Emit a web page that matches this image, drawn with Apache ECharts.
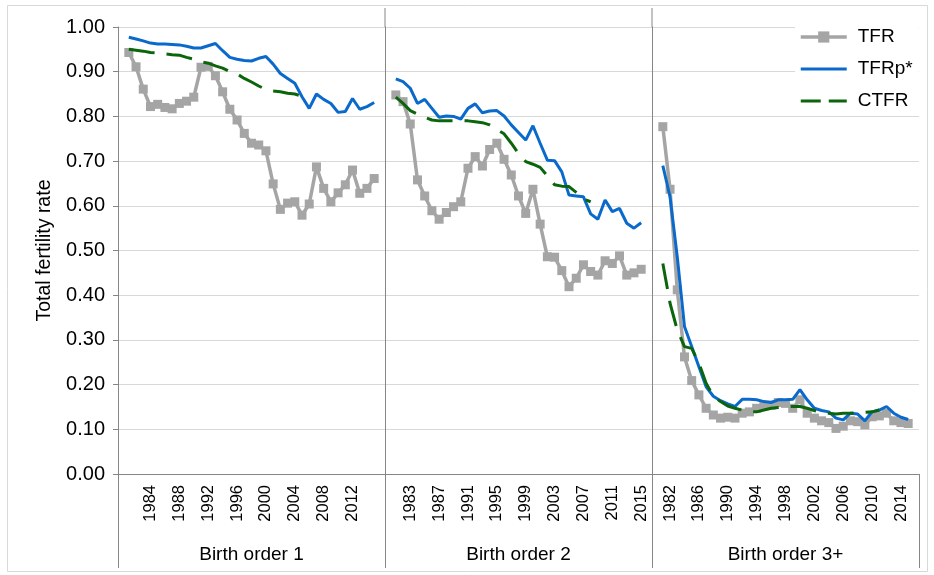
<!DOCTYPE html>
<html><head><meta charset="utf-8">
<script src="https://cdn.jsdelivr.net/npm/echarts@6/dist/echarts.min.js"></script>
<style>html,body{margin:0;padding:0;background:#fff}#c{width:934px;height:575px}</style>
</head><body><div id="c"></div><script>
const years = ['1980','1981','1982','1983','1984','1985','1986','1987','1988','1989','1990','1991','1992','1993','1994','1995','1996','1997','1998','1999','2000','2001','2002','2003','2004','2005','2006','2007','2008','2009','2010','2011','2012','2013','2014','2015','2016'];
const groups = ['Birth order 1','Birth order 2','Birth order 3+'];
const tickLabels1 = ['1984','1988','1992','1996','2000','2004','2008','2012'];
const tickLabels2 = ['1983','1987','1991','1995','1999','2003','2007','2011','2015'];
const tickLabels3 = ['1982','1986','1990','1994','1998','2002','2006','2010','2014'];

const tfr1 = [null,0.943,0.911,0.861,0.822,0.827,0.820,0.817,0.829,0.834,0.843,0.910,0.912,0.891,0.855,0.816,0.792,0.762,0.740,0.736,0.723,0.649,0.592,0.606,0.609,0.579,0.604,0.687,0.639,0.609,0.629,0.647,0.680,0.628,0.639,0.661,null];
const tfrp1 = [null,0.977,0.973,0.969,0.964,0.962,0.962,0.961,0.960,0.957,0.953,0.953,0.958,0.963,0.947,0.932,0.928,0.925,0.924,0.930,0.934,0.917,0.896,0.885,0.874,0.844,0.818,0.850,0.838,0.829,0.809,0.811,0.840,0.816,0.822,0.831,null];
const ctfr1 = [null,0.950,0.948,0.946,0.943,0.942,0.940,0.938,0.937,0.932,0.928,0.922,0.919,0.913,0.908,0.900,0.895,0.885,0.877,0.868,0.860,0.857,0.855,0.852,0.850,0.845,0.838,null,null,null,null,null,null,null,null,null,null];

const tfr2 = [null,0.848,0.833,0.783,0.658,0.622,0.589,0.570,0.585,0.598,0.609,0.684,0.710,0.689,0.726,0.740,0.704,0.669,0.622,0.583,0.637,0.559,0.486,0.485,0.455,0.419,0.438,0.468,0.453,0.445,0.477,0.471,0.488,0.445,0.450,0.458,null];
const tfrp2 = [null,0.884,0.878,0.863,0.829,0.838,0.818,0.798,0.801,0.800,0.794,0.818,0.828,0.808,0.812,0.813,0.801,0.781,0.764,0.747,0.779,0.740,0.702,0.701,0.676,0.624,0.622,0.620,0.582,0.570,0.613,0.587,0.594,0.561,0.550,0.562,null];
const ctfr2 = [null,0.843,0.829,0.813,0.805,0.798,0.792,0.790,0.790,0.790,0.790,0.790,0.788,0.786,0.781,0.771,0.761,0.740,0.717,0.699,0.693,0.686,0.667,0.647,0.644,0.643,0.630,0.615,0.609,null,null,null,null,null,null,null,null];

const tfr3 = [null,0.777,0.637,0.412,0.262,0.209,0.177,0.147,0.132,0.125,0.127,0.125,0.136,0.139,0.147,0.152,0.154,0.160,0.158,0.147,0.166,0.136,0.125,0.119,0.115,0.102,0.107,0.119,0.117,0.110,0.128,0.130,0.136,0.119,0.115,0.113,null];
const tfrp3 = [null,0.690,0.620,0.486,0.330,0.285,0.240,0.195,0.174,0.164,0.157,0.151,0.167,0.167,0.166,0.162,0.160,0.166,0.166,0.167,0.189,0.166,0.147,0.142,0.139,0.125,0.121,0.136,0.134,0.119,0.139,0.143,0.151,0.136,0.127,0.122,null];
const ctfr3 = [null,0.471,0.382,0.322,0.285,0.281,0.248,0.203,0.174,0.162,0.152,0.147,0.143,0.139,0.139,0.143,0.147,0.149,0.151,0.151,0.151,0.147,0.142,0.137,0.136,0.134,0.136,0.136,0.137,0.138,0.139,0.143,null,null,null,null,null];

const panels = [
  {tfr: tfr1, tfrp: tfrp1, ctfr: ctfr1, labels: tickLabels1},
  {tfr: tfr2, tfrp: tfrp2, ctfr: ctfr2, labels: tickLabels2},
  {tfr: tfr3, tfrp: tfrp3, ctfr: ctfr3, labels: tickLabels3}
];

// layout
const L = 118, R = 919, T = 27, B = 474;
const PW = (R - L) / 3;
const axisColor = '#868686';
const gridColor = '#D9D9D9';
const FONT = 'Liberation Sans, Arial, sans-serif';
const C_TFR = '#A5A5A5', C_TFRP = '#0A6ACB', C_CTFR = '#0B650B';

const grid = [], xAxis = [], yAxis = [], series = [];
panels.forEach((p, i) => {
  grid.push({left: L + i * PW, top: T, width: PW, height: B - T, containLabel: false});
  xAxis.push({
    type: 'category', gridIndex: i, data: years, boundaryGap: true,
    axisLine: {show: true, lineStyle: {color: axisColor, width: 1}},
    axisTick: {show: false},
    axisLabel: {
      rotate: 90, margin: 11, fontSize: 16.5, color: '#000', fontFamily: FONT,
      interval: (idx, val) => p.labels.indexOf(val) >= 0
    },
    splitLine: {show: false}
  });
  yAxis.push({
    type: 'value', gridIndex: i, min: 0, max: 1, interval: 0.1,
    axisLine: {show: true, lineStyle: {color: axisColor, width: 1}},
    axisTick: {show: i === 0, length: 5, lineStyle: {color: axisColor}},
    axisLabel: {show: i === 0, fontSize: 20, color: '#000', fontFamily: FONT, margin: 13,
      formatter: v => v.toFixed(2)},
    splitLine: {show: true, lineStyle: {color: gridColor, width: 1}},
    name: i === 0 ? 'Total fertility rate' : '',
    nameLocation: 'middle', nameGap: 63,
    nameTextStyle: {fontSize: 19.5, color: '#000', fontFamily: FONT}
  });
  series.push({
    name: 'TFR', type: 'line', xAxisIndex: i, yAxisIndex: i, data: p.tfr,
    symbol: 'rect', symbolSize: 9, showSymbol: true, showAllSymbol: true,
    itemStyle: {color: C_TFR}, lineStyle: {color: C_TFR, width: 3.5},
    animation: false, z: 2
  });
  series.push({
    name: 'TFRp*', type: 'line', xAxisIndex: i, yAxisIndex: i, data: p.tfrp,
    symbol: 'none', itemStyle: {color: C_TFRP}, lineStyle: {color: C_TFRP, width: 3},
    animation: false, z: 3
  });
  series.push({
    name: 'CTFR', type: 'line', xAxisIndex: i, yAxisIndex: i, data: p.ctfr,
    symbol: 'none', itemStyle: {color: C_CTFR},
    lineStyle: {color: C_CTFR, width: 3, type: [26, 12]},
    animation: false, z: 4
  });
});
// group-level axis (Birth order labels + long boundary ticks)
groups.forEach((g, i) => {
  xAxis.push({
    type: 'category', gridIndex: i, data: [g], position: 'bottom', boundaryGap: true,
    axisLine: {show: false},
    axisTick: {show: true, length: 94, lineStyle: {color: axisColor, width: 1}},
    axisLabel: {margin: 71, fontSize: 19, color: '#000', fontFamily: FONT},
    splitLine: {show: false}
  });
});

const graphic = [
  {type: 'rect', shape: {x: 7.5, y: 5.5, width: 920, height: 566}, style: {fill: 'none', stroke: '#D9D9D9', lineWidth: 1}, silent: true, z: -1},
  {type: 'line', shape: {x1: L + PW, y1: 8, x2: L + PW, y2: T}, style: {stroke: axisColor, lineWidth: 1}},
  {type: 'line', shape: {x1: L + 2 * PW, y1: 8, x2: L + 2 * PW, y2: T}, style: {stroke: axisColor, lineWidth: 1}}
];

const chart = echarts.init(document.getElementById('c'), null, {renderer: 'canvas'});
chart.setOption({
  animation: false,
  backgroundColor: '#fff',
  textStyle: {fontFamily: FONT},
  grid, xAxis, yAxis, series, graphic,
  legend: {
    data: [
      {name: 'TFR', lineStyle: {width: 3.5}},
      {name: 'TFRp*', itemStyle: {opacity: 0}, lineStyle: {width: 3}},
      {name: 'CTFR', itemStyle: {opacity: 0}, lineStyle: {width: 3, type: [20, 8]}}
    ],
    orient: 'vertical', left: 795, top: 23,
    itemWidth: 46, itemHeight: 14, itemGap: 12, padding: [4, 6, 4, 4],
    backgroundColor: '#fff',
    textStyle: {fontSize: 19, lineHeight: 20, color: '#000', fontFamily: FONT, padding: [0, 0, 0, 6]}
  }
});
</script></body></html>
